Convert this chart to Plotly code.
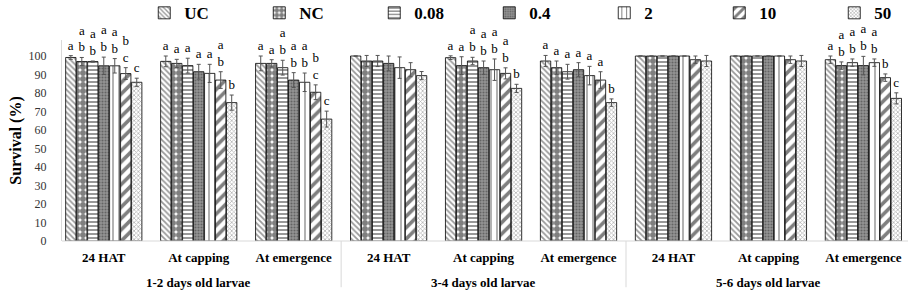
import plotly.graph_objects as go

stages = ["24 HAT", "At capping", "At emergence"] * 3
group_labels = ["1-2 days old larvae", "3-4 days old larvae", "5-6 days old larvae"]
series = ["UC", "NC", "0.08", "0.4", "2", "10", "50"]

uc = [99.2, 97.1, 96.0, 100.0, 99.1, 97.3, 100.0, 100.0, 98.0]
nc = [97.0, 96.0, 96.0, 97.3, 94.8, 93.7, 100.0, 100.0, 94.8]
c008 = [97.0, 94.8, 93.7, 97.3, 97.3, 91.5, 100.0, 100.0, 96.4]
c04 = [94.7, 91.5, 87.0, 96.0, 93.7, 92.6, 100.0, 100.0, 94.8]
c2 = [94.7, 90.6, 85.8, 93.7, 92.6, 89.4, 100.0, 100.0, 96.4]
c10 = [90.5, 87.0, 80.4, 92.6, 90.6, 87.0, 98.0, 98.0, 88.3]
c50 = [85.8, 74.8, 65.9, 89.4, 82.5, 74.8, 97.3, 97.3, 77.1]

err_uc = [1.0, 2.9, 4.0, 0.0, 1.0, 3.0, 0.0, 0.0, 2.0]
err_nc = [2.2, 2.2, 2.0, 3.0, 4.8, 3.6, 0.0, 0.0, 2.0]
err_008 = [0.3, 4.0, 4.0, 3.0, 2.0, 4.0, 0.0, 0.0, 2.0]
err_04 = [4.7, 4.0, 4.0, 4.0, 3.6, 3.8, 0.0, 0.0, 5.0]
err_2 = [3.9, 4.9, 5.0, 5.8, 5.8, 5.0, 0.0, 0.0, 2.0]
err_10 = [3.2, 4.5, 4.0, 3.8, 3.0, 4.5, 2.0, 2.0, 2.0]
err_50 = [2.2, 4.1, 4.3, 2.2, 2.2, 2.0, 3.0, 3.0, 3.0]

let_uc = ["a", "a", "a", "", "a", "a", "", "", "a"]
let_nc = ["ab", "a", "a", "", "a", "a", "", "", "ab"]
let_008 = ["ab", "a", "ab", "", "ab", "a", "", "", "ab"]
let_04 = ["ab", "a", "ab", "", "ab", "a", "", "", "ab"]
let_2 = ["ab", "a", "ab", "", "ab", "a", "", "", "ab"]
let_10 = ["bc", "ab", "bc", "", "ab", "a", "", "", "b"]
let_50 = ["c", "b", "c", "", "b", "b", "", "", "c"]

values = [uc, nc, c008, c04, c2, c10, c50]
errors = [err_uc, err_nc, err_008, err_04, err_2, err_10, err_50]
letters = [let_uc, let_nc, let_008, let_04, let_2, let_10, let_50]

patterns = [
    dict(shape="\\", size=4, solidity=0.45, fgcolor="#333333", bgcolor="white"),
    dict(shape=".", size=6, solidity=0.75, fgcolor="black", bgcolor="white"),
    dict(shape="-", size=4, solidity=0.4, fgcolor="black", bgcolor="white"),
    dict(shape=".", size=3, solidity=0.4, fgcolor="#333333", bgcolor="#959595"),
    dict(shape="|", size=6, solidity=0.2, fgcolor="black", bgcolor="white"),
    dict(shape="/", size=8, solidity=0.45, fgcolor="black", bgcolor="white"),
    dict(shape="x", size=3, solidity=0.45, fgcolor="#666666", bgcolor="white"),
]

serif = "Times New Roman, Liberation Serif, serif"
pos = list(range(len(stages)))
n_per_group = len(stages) // len(group_labels)

fig = go.Figure()
for i, name in enumerate(series):
    fig.add_trace(go.Bar(
        x=pos, y=values[i], name=name, offsetgroup=str(i),
        marker=dict(color="white", line=dict(color="black", width=0.8), pattern=patterns[i]),
        error_y=dict(type="data", array=errors[i], visible=True, color="#555555", thickness=1, width=2),
    ))
for i, name in enumerate(series):
    tops = [v + e for v, e in zip(values[i], errors[i])]
    txt = ["<br>".join(list(s)) for s in letters[i]]
    fig.add_trace(go.Bar(
        x=pos, y=tops, offsetgroup=str(i), showlegend=False, hoverinfo="skip",
        marker=dict(color="rgba(0,0,0,0)", line=dict(width=0)),
        text=txt, textposition="outside", cliponaxis=False, constraintext="none",
        textfont=dict(family=serif, size=13, color="black"),
        outsidetextfont=dict(family=serif, size=13, color="black"),
    ))

# group labels and dividers of the two-level category axis
for g, lab in enumerate(group_labels):
    centre = g * n_per_group + (n_per_group - 1) / 2
    fig.add_annotation(x=centre, y=-0.204, xref="x", yref="paper", text=f"<b>{lab}</b>",
                       showarrow=False, yanchor="middle",
                       font=dict(family=serif, size=13, color="black"))
for g in range(len(group_labels)):
    edge = g * n_per_group - 0.5
    fig.add_shape(type="line", xref="x", yref="paper", x0=edge, x1=edge, y0=0, y1=-0.23,
                  line=dict(color="#d9d9d9", width=1))
fig.add_shape(type="line", xref="x", yref="paper", x0=-0.5, x1=len(stages) - 0.5, y0=0, y1=0,
              line=dict(color="#d9d9d9", width=1))

fig.update_layout(
    width=913, height=295,
    margin=dict(l=62, r=5, t=40, b=54),
    paper_bgcolor="white", plot_bgcolor="white",
    barmode="group", bargap=0.19, bargroupgap=0.06,
    showlegend=True,
    legend=dict(orientation="h", xref="container", yref="container",
                x=0.158, xanchor="left", y=0.955, yanchor="middle",
                font=dict(family=serif, size=17, color="black", weight="bold"),
                entrywidth=70, entrywidthmode="pixels", traceorder="normal",
                itemwidth=30, bgcolor="rgba(0,0,0,0)"),
    font=dict(family=serif, color="black"),
)
fig.update_xaxes(
    range=[-0.44, 8.47], tickvals=pos, ticktext=stages,
    showline=False, showgrid=False, zeroline=False,
    ticks="outside", ticklen=4, tickcolor="rgba(0,0,0,0)",
    tickfont=dict(family=serif, size=13, color="black", weight="bold"),
)
fig.update_yaxes(
    range=[0, 108.65], tickvals=list(range(0, 101, 10)),
    showline=True, linecolor="#d9d9d9", linewidth=1,
    showgrid=False, zeroline=False, ticks="outside", ticklen=12, tickcolor="rgba(0,0,0,0)",
    tickfont=dict(family=serif, size=12, color="#333333"),
    title=dict(text="<b>Survival (%)</b>", font=dict(family=serif, size=16, color="black"), standoff=2),
)

fig.write_html("out.html", config={"displayModeBar": False},
               post_script="document.body.style.margin='0px';")
